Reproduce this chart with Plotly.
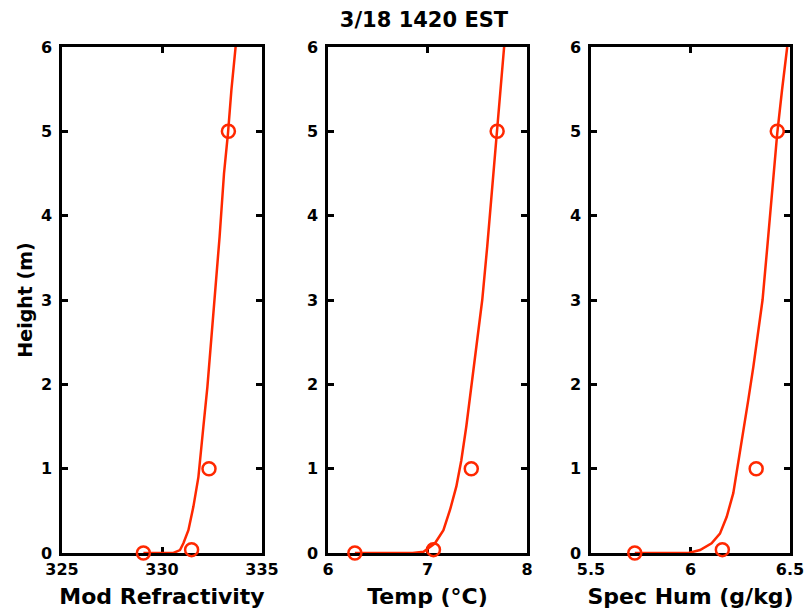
import plotly.graph_objects as go
from plotly.subplots import make_subplots

# ── data ────────────────────────────────────────────
# measured points (open circles)
obs_height = [0, 0.04, 1, 5]
obs_refr = [329.07, 331.48, 332.35, 333.32]
obs_temp = [6.27, 7.06, 7.44, 7.70]
obs_hum = [5.72, 6.16, 6.33, 6.436]

# fitted profiles (solid lines)
fit_refr_h = [0, 0.001, 0.035, 0.115, 0.27, 0.55, 0.9, 1.14, 1.5, 1.97, 2.41, 3.0, 3.75, 4.5, 4.98, 5.49, 6.0]
fit_refr_x = [329.07, 330.57, 330.9, 331.07, 331.32, 331.57, 331.82, 331.93, 332.07, 332.27, 332.42, 332.63,
              332.88, 333.1, 333.3, 333.47, 333.68]

fit_temp_h = [0, 0.001, 0.015, 0.115, 0.27, 0.51, 0.79, 1.1, 1.5, 1.97, 2.49, 3.0, 3.63, 4.3, 4.98, 5.49, 6.0]
fit_temp_x = [6.27, 6.85, 6.96, 7.075, 7.16, 7.226, 7.29, 7.34, 7.39, 7.44, 7.5, 7.55, 7.6, 7.65, 7.70,
              7.735, 7.77]

fit_hum_h = [0, 0.001, 0.035, 0.115, 0.23, 0.43, 0.71, 1.06, 1.42, 1.81, 2.21, 2.6, 3.0, 3.63, 4.3, 4.98, 5.49, 6.0]
fit_hum_x = [5.72, 5.99, 6.048, 6.106, 6.148, 6.182, 6.215, 6.24, 6.265, 6.29, 6.316, 6.34, 6.362, 6.386,
             6.41, 6.436, 6.46, 6.486]

x_ticks = [[325, 330, 335], [6, 7, 8], [5.5, 6, 6.5]]
x_ranges = [[325, 335], [6, 8], [5.5, 6.5]]
x_titles = ["Mod Refractivity", "Temp (\u00b0C)", "Spec Hum (g/kg)"]
y_ticks = [0, 1, 2, 3, 4, 5, 6]

RED = "rgb(255,40,0)"
FONT = "DejaVu Sans"
W, H = 806, 611

fig = make_subplots(rows=1, cols=3)

panels = [
    (fit_refr_x, fit_refr_h, obs_refr),
    (fit_temp_x, fit_temp_h, obs_temp),
    (fit_hum_x, fit_hum_h, obs_hum),
]
for i, (fx, fh, ox) in enumerate(panels, start=1):
    fig.add_trace(go.Scatter(x=fx, y=fh, mode="lines", line=dict(color=RED, width=2.5),
                             showlegend=False, cliponaxis=False), row=1, col=i)
    fig.add_trace(go.Scatter(x=ox, y=obs_height, mode="markers",
                             marker=dict(symbol="circle-open", size=13, color=RED, line=dict(width=2.5)),
                             showlegend=False, cliponaxis=False), row=1, col=i)

# panel positions in pixels (left, right)
px_domains = [(62, 262), (328, 527), (591, 790)]
y_dom = [1 - 553 / H, 1 - 47 / H]

for i in range(3):
    l, r = px_domains[i]
    fig.update_xaxes(domain=[l / W, r / W], range=x_ranges[i], tickvals=x_ticks[i],
                     ticktext=[f"<b>{v:g}</b>" for v in x_ticks[i]],
                     row=1, col=i + 1)
    fig.update_yaxes(domain=y_dom, range=[0, 6], tickvals=y_ticks,
                     ticktext=[f"<b>{v}</b>" for v in y_ticks], row=1, col=i + 1)
    fig.update_xaxes(title=dict(text=f"<b>{x_titles[i]}</b>", font=dict(size=22, family=FONT, color="black"),
                                standoff=11), row=1, col=i + 1)

fig.update_xaxes(showgrid=False, zeroline=False, showline=True, linecolor="black", linewidth=2.5,
                 mirror="ticks", ticks="inside", ticklen=6, tickwidth=2.5, tickcolor="black",
                 tickfont=dict(size=16, family=FONT, color="black"), automargin=False,
                 layer="below traces")
fig.update_yaxes(showgrid=False, zeroline=False, showline=True, linecolor="black", linewidth=2.5,
                 mirror="ticks", ticks="inside", ticklen=6, tickwidth=2.5, tickcolor="black",
                 tickfont=dict(size=16, family=FONT, color="black"), automargin=False,
                 ticklabelstandoff=4, layer="below traces")
fig.update_yaxes(title=dict(text="<b>Height (m)</b>", font=dict(size=19, family=FONT, color="black"),
                            standoff=4), row=1, col=1)

fig.update_layout(
    width=W, height=H,
    margin=dict(l=0, r=0, t=0, b=0),
    paper_bgcolor="white", plot_bgcolor="white",
    title=dict(text="<b>3/18 1420 EST</b>", x=424 / W, xanchor="center", y=1 - 20 / H, yanchor="middle",
               font=dict(size=21, family=FONT, color="black")),
)

# 去掉页面默认的 body 边距，让图正好贴满窗口；不显示工具栏
fig.write_html("out.html", config={"displayModeBar": False},
               post_script="document.body.style.margin='0';")
